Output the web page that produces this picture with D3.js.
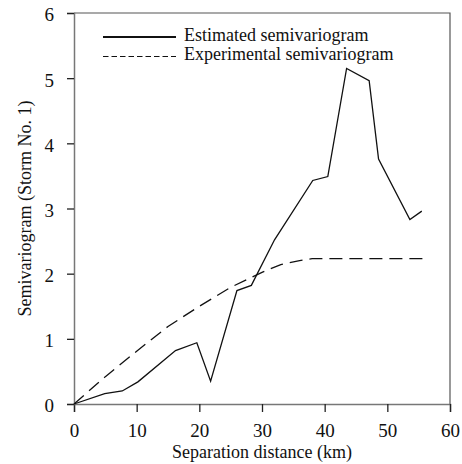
<!DOCTYPE html>
<html>
<head>
<meta charset="utf-8">
<script src="https://cdn.jsdelivr.net/npm/d3@7"></script>
<style>
  body { margin: 0; background: #fff; }
  svg text { font-family: "Liberation Serif", "Times New Roman", serif; fill: #111; }
</style>
</head>
<body>
<div id="chart"></div>
<script>
// separation distance (km) and semivariogram values
const estDist = [0, 4.9, 7.7, 10.2, 16.2, 19.6, 21.8, 26.0, 28.3, 32.0, 38.1, 40.5, 43.5, 47.1, 48.6, 53.6, 55.5];
const estGamma = [0, 0.16, 0.2, 0.34, 0.82, 0.94, 0.35, 1.74, 1.82, 2.52, 3.43, 3.49, 5.15, 4.96, 3.76, 2.83, 2.96];

const expDist = [0, 5, 10, 15, 20, 25, 30, 33, 36, 38, 45, 55.6];
const expGamma = [0, 0.42, 0.81, 1.19, 1.5, 1.79, 2.02, 2.14, 2.2, 2.23, 2.23, 2.23];

const xTicks = [0, 10, 20, 30, 40, 50, 60];
const yTicks = [0, 1, 2, 3, 4, 5, 6];
const seriesNames = ["Estimated semivariogram", "Experimental semivariogram"];

const margin = {top: 13, right: 12, bottom: 60, left: 74};
const width = 462 - margin.left - margin.right;
const height = 464 - margin.top - margin.bottom;

const svg = d3.select("#chart")
    .append("svg")
    .attr("width", 462)
    .attr("height", 464)
    .append("g")
    .attr("transform", `translate(${margin.left},${margin.top})`);

const x = d3.scaleLinear().domain([0, 60]).range([0, width]);
const y = d3.scaleLinear().domain([0, 6]).range([height, 0]);

// frame (top + right)
svg.append("path")
    .attr("d", `M0,0H${width}V${height}`)
    .attr("fill", "none")
    .attr("stroke", "#555")
    .attr("stroke-width", 1.2);

// x axis
const xAxis = svg.append("g")
    .attr("transform", `translate(0,${height})`)
    .call(d3.axisBottom(x).tickValues(xTicks).tickFormat(d3.format("d")).tickSize(8).tickPadding(12));
xAxis.select(".domain").attr("stroke", "#777").attr("stroke-width", 1.5);
xAxis.selectAll(".tick line").attr("stroke", "#222").attr("stroke-width", 1.3);
xAxis.selectAll(".tick text")
    .style("font-family", "'Liberation Serif', serif")
    .style("font-size", "19px").attr("fill", "#111");

// y axis
const yAxis = svg.append("g")
    .call(d3.axisLeft(y).tickValues(yTicks).tickFormat(d3.format("d")).tickSize(7).tickPadding(13));
yAxis.select(".domain").attr("stroke", "#777").attr("stroke-width", 1.5);
yAxis.selectAll(".tick line").attr("stroke", "#222").attr("stroke-width", 1.3);
yAxis.selectAll(".tick text")
    .style("font-family", "'Liberation Serif', serif")
    .style("font-size", "19px").attr("dy", "0.42em").attr("fill", "#111");

// axis titles
svg.append("text")
    .attr("x", width / 2)
    .attr("y", height + 54)
    .attr("text-anchor", "middle")
    .style("font-size", "18px")
    .text("Separation distance (km)");

svg.append("text")
    .attr("transform", "rotate(-90)")
    .attr("x", -height / 2)
    .attr("y", -43)
    .attr("text-anchor", "middle")
    .style("font-size", "18px")
    .text("Semivariogram (Storm No. 1)");

const line = d3.line()
    .x(d => x(d[0]))
    .y(d => y(d[1]));

// estimated: solid
svg.append("path")
    .datum(d3.zip(estDist, estGamma))
    .attr("fill", "none")
    .attr("stroke", "#111")
    .attr("stroke-width", 1.3)
    .attr("d", line);

// experimental: dashed
svg.append("path")
    .datum(d3.zip(expDist, expGamma))
    .attr("fill", "none")
    .attr("stroke", "#111")
    .attr("stroke-width", 1.3)
    .attr("stroke-dasharray", "13,7")
    .attr("d", line);

// legend
const legend = svg.append("g").attr("transform", "translate(29,24)");
legend.selectAll("line")
    .data(seriesNames)
    .join("line")
    .attr("x1", 0)
    .attr("x2", 73)
    .attr("y1", (d, i) => i * 19.5)
    .attr("y2", (d, i) => i * 19.5)
    .attr("stroke", "#111")
    .attr("stroke-width", (d, i) => i === 0 ? 2 : 1.2)
    .attr("stroke-dasharray", (d, i) => i === 0 ? null : "5.5,3");

legend.selectAll("text")
    .data(seriesNames)
    .join("text")
    .attr("x", 81)
    .attr("y", (d, i) => i * 19.5 + 3.5)
    .style("font-size", "18px")
    .text(d => d);
</script>
</body>
</html>
